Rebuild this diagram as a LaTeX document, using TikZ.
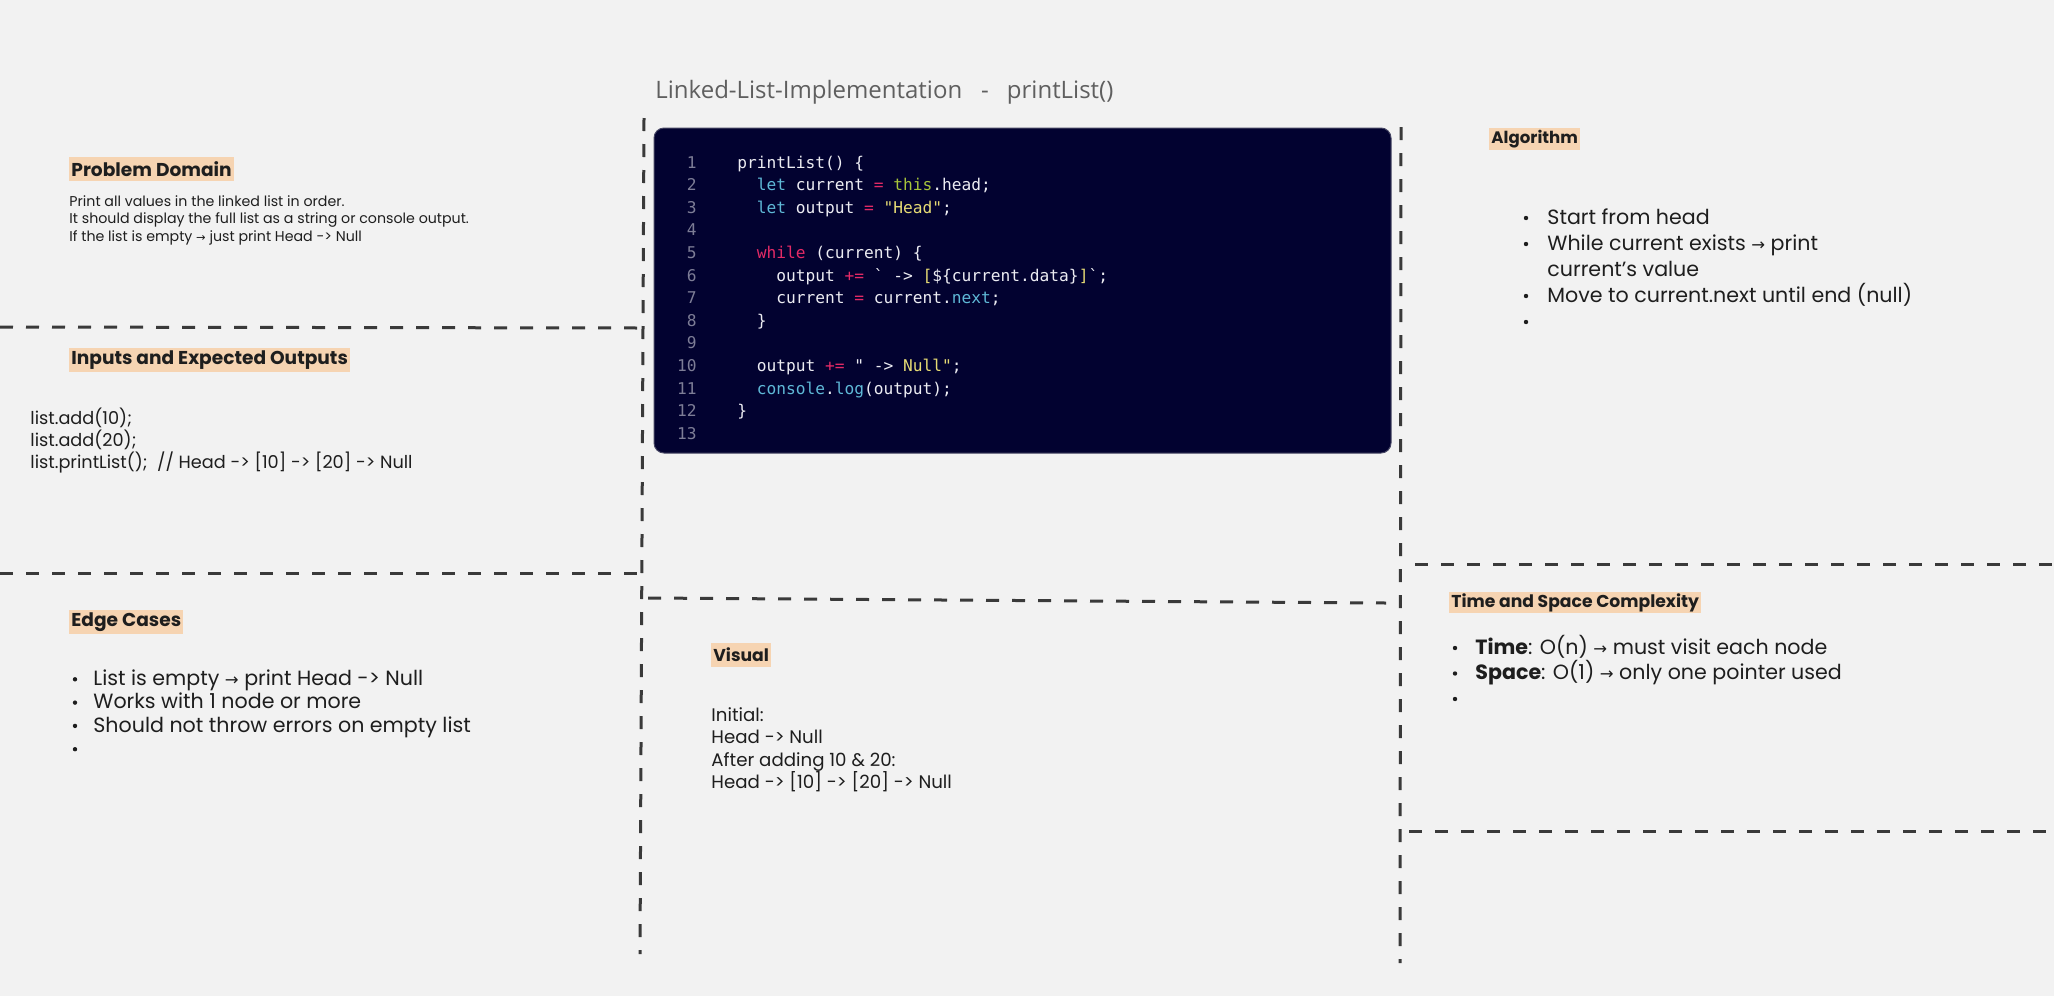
\documentclass[tikz,border=0pt]{standalone}
\usepackage{fontspec}
\setmainfont{Poppins}
\newfontfamily\titlefont{Open Sans}
\newfontfamily\codefont{DejaVu Sans Mono}
\newfontfamily\arrfont{DejaVu Sans}[Scale=0.8]

\definecolor{paper}{RGB}{242,242,242}
\definecolor{rule}{RGB}{58,58,58}
\definecolor{ink}{RGB}{30,30,30}
\definecolor{titlegrey}{RGB}{95,95,95}
\definecolor{peach}{RGB}{246,212,178}
\definecolor{codebg}{RGB}{2,2,48}
\definecolor{codeedge}{RGB}{70,70,100}
\definecolor{codeplain}{RGB}{236,236,242}
\definecolor{codenum}{RGB}{125,125,150}
\definecolor{codekey}{RGB}{95,185,215}
\definecolor{codeop}{RGB}{228,42,102}
\definecolor{codestr}{RGB}{230,219,116}
\definecolor{codethis}{RGB}{166,196,58}

\newcommand{\rarr}{{\arrfont →}}
\newcommand{\ckey}[1]{\textcolor{codekey}{#1}}
\newcommand{\cop}[1]{\textcolor{codeop}{#1}}
\newcommand{\cstr}[1]{\textcolor{codestr}{#1}}
\newcommand{\cthis}[1]{\textcolor{codethis}{#1}}

\begin{document}
\begin{tikzpicture}[x=0.5pt,y=-0.5pt,
  divider/.style={draw=rule,line width=1.5pt,dash pattern=on 6.5pt off 6.5pt},
  heading/.style={anchor=west,fill=peach,inner xsep=1pt,inner ysep=0pt,minimum height=12pt,text=ink,font=\fontsize{9.3pt}{11pt}\selectfont\bfseries},
  body/.style={anchor=base west,inner sep=0pt,text=ink},
  codeline/.style={anchor=base west,inner sep=0pt,text=codeplain,font=\codefont\fontsize{8.1pt}{10pt}\selectfont},
  lineno/.style={anchor=base east,inner sep=0pt,text=codenum,font=\codefont\fontsize{8.1pt}{10pt}\selectfont}]
	\fill[paper] (0,0) rectangle (2054,996);
	\useasboundingbox (0,0) rectangle (2054,996);
	% section dividers
	\draw[divider] (0,327) -- (640,328);
	\draw[divider] (0,573) -- (640,573);
	\draw[divider] (644,118) -- (640,954);
	\draw[divider] (648,598) -- (1386,603);
	\draw[divider] (1401,127) -- (1400,963);
	\draw[divider] (1415,564) -- (2054,564);
	\draw[divider] (1409,831) -- (2054,831);
	% title and code
	\node[body,text=titlegrey,font=\titlefont\fontsize{12pt}{14pt}\selectfont] (title) at (655,98) {Linked-List-Implementation\hspace{9.5pt}-\hspace{9pt}printList()};
	\draw[fill=codebg,draw=codeedge,line width=0.5pt,rounded corners=5pt] (654,128) rectangle (1391,453);
	\foreach \n in {1,...,13}
	\node[lineno] (num\n) at (697,145.4+22.6*\n) {\n};
	\foreach \ind/\txt [count=\n] in {0/{printList() \{}, 2/{\ckey{let} current \cop{=} \cthis{this}.head;}, 2/{\ckey{let} output \cop{=} \cstr{"Head"};}, 0/{}, 2/{\cop{while} (current) \{}, 4/{output \cop{+=} ` -> \cstr{[}\$\{current.data\}\cstr{]}`;}, 4/{current \cop{=} current.\ckey{next};}, 2/{\}}, 0/{}, 2/{output \cop{+=} " -> \cstr{Null"};}, 2/{\ckey{console}.\ckey{log}(output);}, 0/{\}}, 0/{}}
	\node[codeline] (code\n) at (737+9.75*\ind,145.4+22.6*\n) {\txt};
	% problem domain
	\node[heading] (pdhead) at (69,169) {Problem Domain};
	\foreach \txt [count=\i from 0] in {Print all values in the linked list in order., It should display the full list as a string or console output., If the list is empty \rarr{} just print Head -> Null}
	\node[body,font=\fontsize{7.1pt}{8pt}\selectfont] (pd\i) at (69,206+17.5*\i) {\txt};
	% inputs and outputs
	\node[heading] (iohead) at (69,360) {Inputs and Expected Outputs};
	\foreach \txt [count=\i from 0] in {list.add(10);, list.add(20);, list.printList();\ \ // Head -> [10] -> [20] -> Null}
	\node[body,font=\fontsize{8.85pt}{10pt}\selectfont] (io\i) at (30,424.6+22*\i) {\txt};
	% edge cases
	\node[heading] (edgehead) at (69,622) {Edge Cases};
	\foreach \txt [count=\i from 0] in {List is empty \rarr{} print Head -> Null, Works with 1 node or more, Should not throw errors on empty list, {}} {
	\fill[ink] (75,679.3+23.3*\i) circle[radius=1.1pt];
	\node[body,font=\fontsize{10.3pt}{12pt}\selectfont] (edge\i) at (93,685.5+23.3*\i) {\txt};
	}
	% visual
	\node[heading,font=\fontsize{8.6pt}{10pt}\selectfont\bfseries] (vishead) at (711,655) {Visual};
	\foreach \txt [count=\i from 0] in {Initial:, Head -> Null, After adding 10 \& 20:, Head -> [10] -> [20] -> Null}
	\node[body,font=\fontsize{9.1pt}{11pt}\selectfont] (vis\i) at (711,721.5+22.4*\i) {\txt};
	% algorithm
	\node[heading,minimum height=11pt,font=\fontsize{8.3pt}{10pt}\selectfont\bfseries] (algohead) at (1489,139) {Algorithm};
	\foreach \i in {0,1,3,4}
	\fill[ink] (1526,218+26*\i) circle[radius=1.1pt];
	\foreach \txt [count=\i from 0] in {Start from head, While current exists \rarr{} print, current’s value, Move to current.next until end (null)}
	\node[body,font=\fontsize{10.3pt}{12pt}\selectfont] (algo\i) at (1547,224.2+26*\i) {\txt};
	% complexity
	\node[heading,minimum height=10.5pt,font=\fontsize{8.6pt}{10pt}\selectfont\bfseries] (cxhead) at (1449,602.5) {Time and Space Complexity};
	\foreach \i in {0,1,2}
	\fill[ink] (1455,648+25.5*\i) circle[radius=1.1pt];
	\foreach \txt [count=\i from 0] in {\textbf{Time}: O(n) \rarr{} must visit each node, \textbf{Space}: O(1) \rarr{} only one pointer used}
	\node[body,font=\fontsize{10.3pt}{12pt}\selectfont] (cx\i) at (1475,654.2+25.5*\i) {\txt};
\end{tikzpicture}
\end{document}
